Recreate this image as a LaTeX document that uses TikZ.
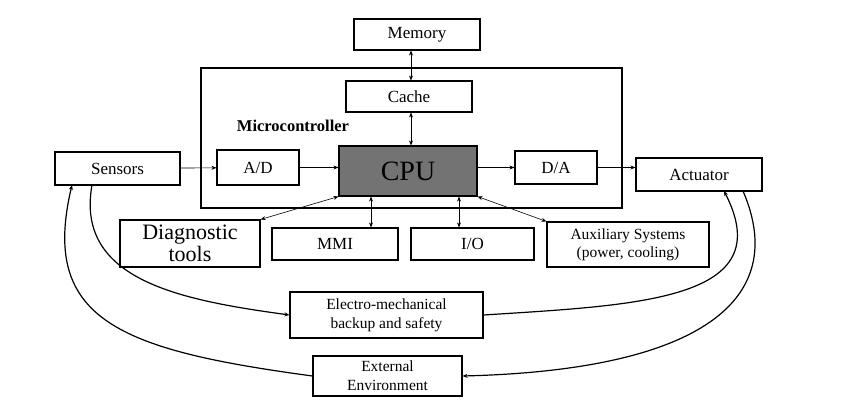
\documentclass[tikz,border=0pt]{standalone}
\usepackage{fontspec}
\setmainfont{Liberation Serif}
\usetikzlibrary{arrows.meta}
\begin{document}
\begin{tikzpicture}[x=1pt,y=-1pt,
 bx/.style={draw,line width=1.1pt,inner sep=0pt,font=\fontsize{17}{18}\selectfont,align=center},
 ar/.style={-{Stealth[length=5pt,width=4pt]},line width=0.6pt},
 dar/.style={{Stealth[length=5pt,width=4pt]}-{Stealth[length=5pt,width=4pt]},line width=0.6pt},
 cv/.style={line width=1.2pt,-{Stealth[length=5pt,width=4pt]}}]
\useasboundingbox (0,0) rectangle (855,412);
\newcommand{\bxat}[6]{\node[bx,minimum width=#4-#2,minimum height=#5-#3,#6] (#1) at ({(#2+#4)/2},{(#3+#5)/2})}
\draw[line width=1.1pt] (201,68) rectangle (622,208);
\bxat{mem}{354}{19}{480}{50}{}{Memory};
\bxat{cache}{346}{81}{472}{112}{}{Cache};
\node[font=\fontsize{16.5}{18}\selectfont\bfseries] (mc) at (293,126) {Microcontroller};
\bxat{sen}{55}{152}{180}{185}{}{Sensors};
\bxat{ad}{217}{150}{299}{185}{}{A/D};
\bxat{cpu}{339}{146}{477}{196}{fill=black!55,font=\fontsize{28}{30}\selectfont}{CPU};
\bxat{da}{515}{151}{597}{184}{}{D/A};
\bxat{act}{636}{158}{762}{191}{}{Actuator};
\bxat{diag}{120}{220}{260}{267}{font=\fontsize{22}{22}\selectfont}{Diagnostic\\tools};
\bxat{mmi}{272}{228}{398}{260}{}{MMI};
\bxat{io}{411}{228}{534}{260}{}{I/O};
\bxat{aux}{547}{222}{709}{267}{font=\fontsize{15.5}{18}\selectfont}{Auxiliary Systems\\(power, cooling)};
\bxat{emb}{290}{292}{483}{338}{font=\fontsize{15.5}{19}\selectfont}{Electro-mechanical\\backup and safety};
\bxat{ext}{313}{356}{462}{396}{font=\fontsize{15.5}{19}\selectfont}{External\\Environment};
\draw[dar] (mem.south-|411,0) -- (cache.north-|411,0);
\draw[dar] (cache.south-|411,0) -- (cpu.north-|411,0);
\draw[ar] (sen) -- (ad);
\draw[ar] (ad.east) -- (cpu.west|-ad.east);
\draw[ar] (cpu.east|-da.west) -- (da.west);
\draw[ar] (da.east) -- (act.west|-da.east);
\draw[dar] (diag.north east) -- (cpu.south west);
\draw[dar] (mmi.north-|371,0) -- (cpu.south-|371,0);
\draw[dar] (io.north-|459,0) -- (cpu.south-|459,0);
\draw[dar] (aux.north west) -- (cpu.south east);
\coordinate (s1) at (92,185); \coordinate (s2) at (72,185);
\coordinate (a1) at (724,191); \coordinate (a2) at (743,191);
\draw[cv] (s1) .. controls (75,280) and (180,300) .. (emb.west);
\draw[cv] (emb.east) .. controls (640,305) and (780,300) .. (a1);
\draw[cv] (ext.west) .. controls (120,350) and (40,320) .. (s2);
\draw[cv] (a2) .. controls (790,300) and (700,370) .. (ext.east);
\end{tikzpicture}
\end{document}
